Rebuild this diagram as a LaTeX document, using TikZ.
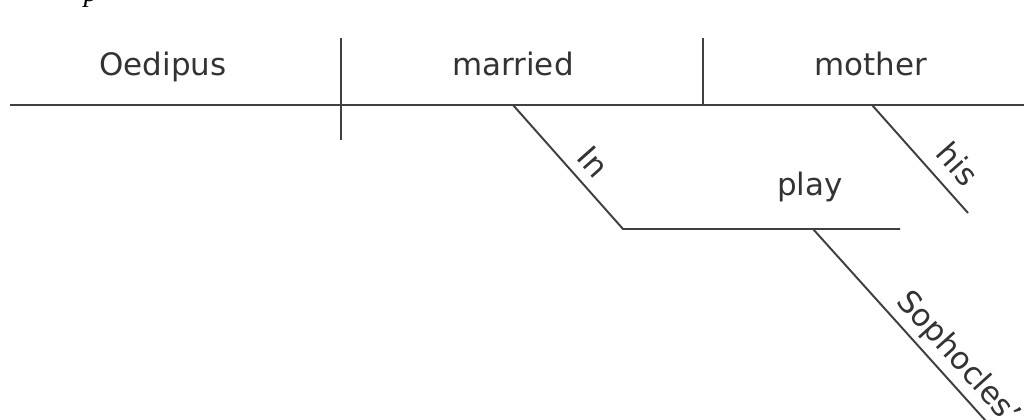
\documentclass[tikz,border=0pt]{standalone}
\usepackage{fontspec}
\setmainfont{DejaVu Sans}
\newfontfamily\capfont{Liberation Serif}
\tikzset{
  word/.style={font=\fontsize{22}{26}\selectfont, text=black!80, inner sep=0pt, anchor=base},
  tag/.style={font=\fontsize{22}{26}\selectfont, text=black!80, inner sep=0pt, text depth=0pt, sloped},
  rule/.style={draw=black!75, line width=1.4pt}
}
\begin{document}
\begin{tikzpicture}[x=0.025cm,y=-0.025cm]
  \clip (0,0) rectangle (1024,420);
  % cut-off letter at the top
  \node[font=\capfont\itshape\fontsize{20}{24}\selectfont, inner sep=0pt, anchor=base] (cut) at (91,2) {p};
  % points of the diagram
  \path
  (10,105) coordinate (baseL)
  (1030,105) coordinate (baseR)
  (341,38) coordinate (sT) (341,140) coordinate (sB)
  (703,38) coordinate (oT) (703,105) coordinate (oB)
  (513,105) coordinate (inA) (623,229) coordinate (inB)
  (900,229) coordinate (playR)
  (872,105) coordinate (hisA) (968,213) coordinate (hisB)
  (813,229) coordinate (sophA) (1003,440) coordinate (sophB);
  % main line and dividers
  \draw[rule] (baseL) -- (baseR);
  \draw[rule] (sT) -- (sB);
  \draw[rule] (oT) -- (oB);
  % words on the main line
  \node[word] (subj) at (163,76) {Oedipus};
  \node[word] (verb) at (513,76) {married};
  \node[word] (obj) at (871,76) {mother};
  % modifiers
  \draw[rule] (inA) -- node[tag, pos=0.58, above=7pt] (prep) {In} (inB) -- (playR);
  \node[word] (pobj) at (810,195) {play};
  \draw[rule] (hisA) -- node[tag, pos=0.7, above=9pt] (poss) {his} (hisB);
  \draw[rule] (sophA) -- node[tag, pos=0.68, above=8pt] (gen) {Sophocles'} (sophB);
\end{tikzpicture}
\end{document}
